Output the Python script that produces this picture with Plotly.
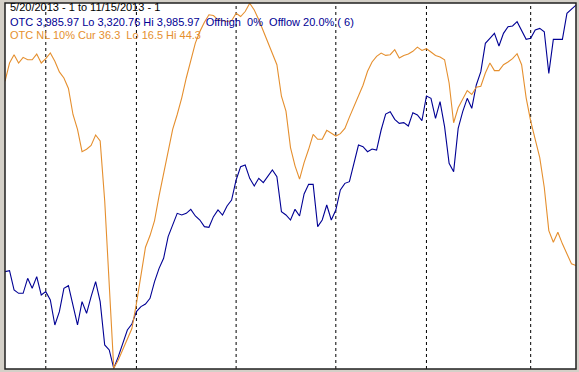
import pandas as pd
import plotly.graph_objects as go

# Trading days 5/20/2013 .. 11/15/2013 (US market holidays removed)
holidays = ["2013-05-27", "2013-07-04", "2013-09-02"]
dates = [d for d in pd.bdate_range("2013-05-20", "2013-11-15") if d.strftime("%Y-%m-%d") not in holidays]
date_labels = [d.strftime("%m/%d/%Y") for d in dates]

otc = [3497.75, 3499.58, 3464.18, 3458.08, 3458.08, 3485.54, 3467.23, 3488.59, 3455.03, 3461.13,
       3445.87, 3400.10, 3424.51, 3467.23, 3472.11, 3433.67, 3400.10, 3442.82, 3421.46, 3451.97,
       3479.44, 3442.82, 3363.48, 3354.33, 3320.76, 3342.12, 3366.53, 3390.94, 3401.93, 3424.51,
       3433.67, 3438.55, 3448.92, 3479.44, 3503.85, 3522.16, 3561.83, 3583.19, 3604.55, 3601.50,
       3604.55, 3611.87, 3599.67, 3592.34, 3580.14, 3578.92, 3598.45, 3610.65, 3601.50, 3617.98,
       3628.96, 3665.58, 3689.99, 3693.04, 3668.63, 3654.59, 3668.63, 3660.70, 3671.68, 3683.89,
       3671.68, 3607.60, 3601.50, 3592.34, 3611.87, 3599.67, 3639.95, 3657.65, 3657.65, 3580.14,
       3592.34, 3619.81, 3592.34, 3610.65, 3647.27, 3659.48, 3662.53, 3696.09, 3729.66, 3726.61,
       3717.45, 3722.34, 3720.51, 3757.12, 3786.42, 3790.69, 3776.65, 3769.33, 3770.55, 3764.45,
       3788.86, 3784.59, 3774.21, 3819.38, 3815.10, 3778.49, 3809.00, 3763.23, 3696.09, 3680.84,
       3760.18, 3790.69, 3815.10, 3796.79, 3839.52, 3863.93, 3915.80, 3924.96, 3934.11, 3910.92,
       3934.11, 3946.32, 3947.54, 3955.47, 3940.21, 3923.13, 3924.96, 3940.21, 3943.27, 3937.16,
       3860.88, 3923.13, 3923.13, 3923.13, 3970.73, 3978.05, 3985.97]

otc_nl = [38.36, 39.75, 40.38, 39.75, 40.18, 40.00, 40.00, 40.43, 39.75, 40.08,
          40.51, 39.88, 39.07, 38.61, 37.81, 35.83, 34.70, 33.00, 33.18, 33.48,
          34.27, 33.81, 29.26, 22.44, 16.50, 17.13, 17.89, 18.65, 19.53, 21.43,
          23.70, 25.72, 26.61, 27.75, 29.64, 31.28, 33.05, 34.70, 35.83, 37.10,
          38.61, 40.00, 41.27, 42.15, 42.86, 43.42, 43.37, 43.04, 42.96, 42.91,
          42.96, 43.54, 43.29, 43.67, 44.30, 43.79, 43.04, 42.15, 41.27, 40.38,
          39.62, 37.22, 36.09, 33.31, 31.92, 30.91, 32.17, 33.18, 34.32, 33.94,
          33.94, 34.62, 34.37, 34.19, 34.37, 34.77, 35.63, 36.47, 37.22, 38.06,
          39.12, 39.83, 40.26, 40.51, 40.33, 40.38, 40.76, 40.13, 40.33, 40.43,
          40.64, 40.96, 40.71, 40.84, 40.59, 40.33, 40.21, 40.00, 38.23, 35.20,
          36.34, 37.05, 37.65, 37.35, 37.91, 37.98, 38.99, 39.75, 39.17, 39.17,
          39.62, 39.83, 40.08, 40.46, 39.62, 37.10, 35.33, 33.94, 32.55, 30.27,
          26.99, 26.10, 26.86, 25.98, 25.22, 24.46, 24.33]

title_lines = [
    "5/20/2013 - 1 to 11/15/2013 - 1",
    "OTC 3,985.97 Lo 3,320.76 Hi 3,985.97  Offhigh  0%  Offlow 20.0% ( 6)",
    "OTC NL 10% Cur 36.3  Lo 16.5 Hi 44.3",
]

BLUE = "#000094"
ORANGE = "#E58F2E"
W, H = 579, 372
L, R, T, B = 5, 3, 3, 3

fig = go.Figure()
fig.add_trace(go.Scatter(x=date_labels, y=otc, mode="lines", line=dict(color=BLUE, width=1.1),
                         yaxis="y", showlegend=False, hoverinfo="skip"))
fig.add_trace(go.Scatter(x=date_labels, y=otc_nl, mode="lines", line=dict(color=ORANGE, width=1.1),
                         yaxis="y2", showlegend=False, hoverinfo="skip"))

# month boundary dashed lines
shapes = []
for i in range(1, len(dates)):
    if dates[i].month != dates[i - 1].month:
        shapes.append(dict(type="line", xref="x", yref="paper", x0=i, x1=i, y0=0, y1=1,
                           line=dict(color="black", width=1, dash="3px,3px"), layer="below"))
shapes.append(dict(type="rect", xref="paper", yref="paper", x0=0, x1=1, y0=0, y1=1,
                   line=dict(color="#202020", width=1.5), fillcolor="rgba(0,0,0,0)"))

annotations = []
colors = ["black", BLUE, ORANGE]
ys = [7, 22, 35]
for txt, c, yp in zip(title_lines, colors, ys):
    annotations.append(dict(text=txt, xref="paper", yref="paper", x=(8 - L) / (W - L - R),
                            y=1 - (yp - T) / (H - T - B), xanchor="left", yanchor="middle",
                            showarrow=False, font=dict(family="Liberation Sans, Arial", size=11, color=c)))

fig.update_layout(
    width=W, height=H,
    margin=dict(l=L, r=R, t=T, b=B, pad=0),
    paper_bgcolor="#D4D0C8", plot_bgcolor="white",
    xaxis=dict(type="category", range=[0, len(dates) - 1], showgrid=False, showticklabels=False,
               zeroline=False, showline=False, ticks=""),
    yaxis=dict(range=[3319.5, 3989.7], showgrid=False, showticklabels=False, zeroline=False,
               showline=False, ticks=""),
    yaxis2=dict(range=[16.45, 44.32], overlaying="y", showgrid=False, showticklabels=False,
                zeroline=False, showline=False, ticks=""),
    shapes=shapes, annotations=annotations,
)

fig.write_html("out.html", config={"displayModeBar": False},
               post_script="document.body.style.margin='0';document.body.style.padding='0';")
